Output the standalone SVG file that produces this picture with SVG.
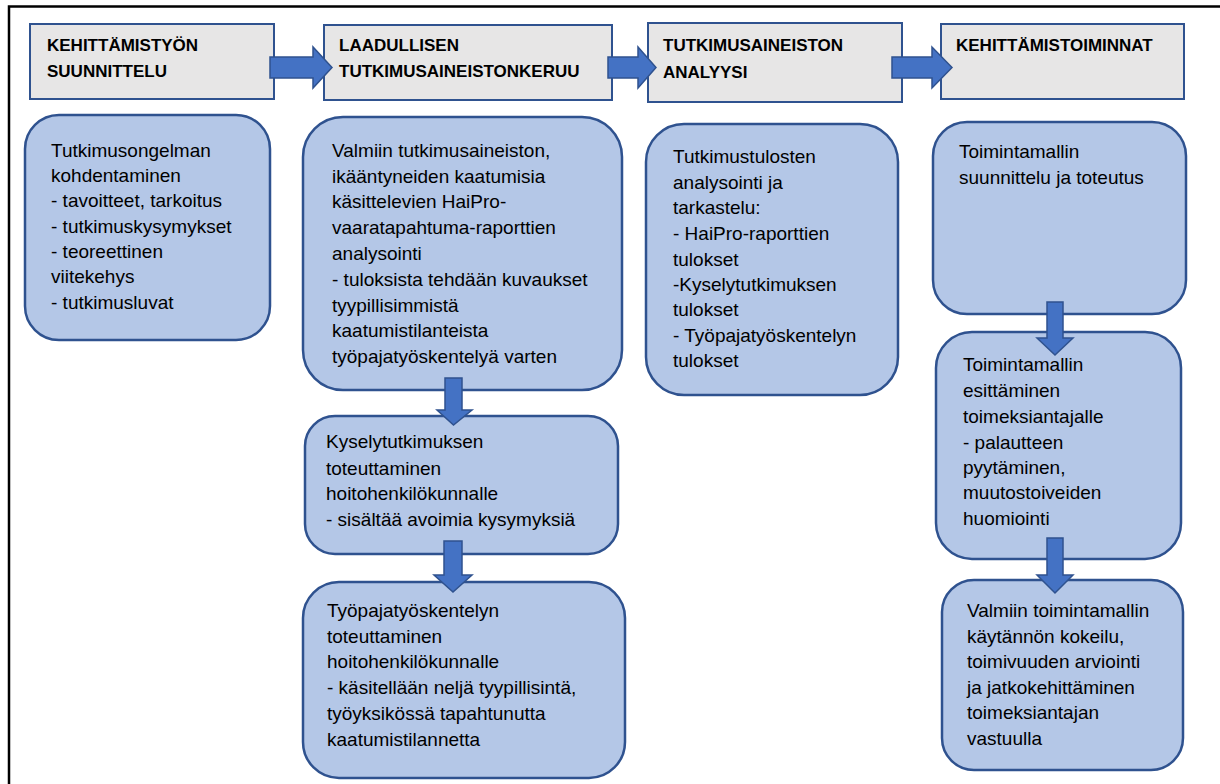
<svg xmlns="http://www.w3.org/2000/svg" width="1220" height="784" viewBox="0 0 1220 784">
<style>
.hdr{fill:#E7E6E6;stroke:#2F528F;stroke-width:2}
.box{fill:#B4C7E7;stroke:#2F528F;stroke-width:2.5}
.arr{fill:#4472C4;stroke:#2F528F;stroke-width:1.5}
.ht{font-family:"Liberation Sans",Arial,sans-serif;font-size:17px;font-weight:bold;fill:#000}
.bt{font-family:"Liberation Sans",Arial,sans-serif;font-size:19px;fill:#000}
</style>
<rect width="1220" height="784" fill="#fff"/>
<path d="M9,784 V6.5 H1220" fill="none" stroke="#000" stroke-width="2.5"/>

<g id="h1"><rect class="hdr" x="30" y="24" width="244" height="75"/>
<text class="ht" x="47" y="51">KEHITTÄMISTYÖN</text><text class="ht" x="47" y="77">SUUNNITTELU</text></g>
<g id="h2"><rect class="hdr" x="324" y="25" width="288" height="75"/>
<text class="ht" x="339" y="51">LAADULLISEN</text><text class="ht" x="339" y="77">TUTKIMUSAINEISTONKERUU</text></g>
<g id="h3"><rect class="hdr" x="648" y="23" width="254" height="79"/>
<text class="ht" x="663" y="51">TUTKIMUSAINEISTON</text><text class="ht" x="663" y="78">ANALYYSI</text></g>
<g id="h4"><rect class="hdr" x="941" y="24" width="243" height="75"/>
<text class="ht" x="956" y="51">KEHITTÄMISTOIMINNAT</text></g>

<g id="a"><rect class="box" x="25" y="115" width="245" height="225" rx="34"/>
<text class="bt" x="51"><tspan x="51" y="157">Tutkimusongelman</tspan><tspan x="51" y="182">kohdentaminen</tspan><tspan x="51" y="207">- tavoitteet, tarkoitus</tspan><tspan x="51" y="233">- tutkimuskysymykset</tspan><tspan x="51" y="258">- teoreettinen</tspan><tspan x="51" y="283">viitekehys</tspan><tspan x="51" y="309">- tutkimusluvat</tspan></text></g>

<g id="b1"><rect class="box" x="303" y="117" width="319" height="273" rx="40"/>
<text class="bt"><tspan x="332" y="157">Valmiin tutkimusaineiston,</tspan><tspan x="332" y="183">ikääntyneiden  kaatumisia</tspan><tspan x="332" y="208">käsittelevien  HaiPro-</tspan><tspan x="332" y="234">vaaratapahtuma-raporttien</tspan><tspan x="332" y="260">analysointi</tspan><tspan x="332" y="286">- tuloksista tehdään kuvaukset</tspan><tspan x="332" y="312">tyypillisimmistä</tspan><tspan x="332" y="337">kaatumistilanteista</tspan><tspan x="332" y="363">työpajatyöskentelyä  varten</tspan></text></g>

<g id="b2"><rect class="box" x="305" y="416" width="313" height="138" rx="30"/>
<text class="bt"><tspan x="326" y="448">Kyselytutkimuksen</tspan><tspan x="326" y="475">toteuttaminen</tspan><tspan x="326" y="500">hoitohenkilökunnalle</tspan><tspan x="326" y="526">- sisältää avoimia kysymyksiä</tspan></text></g>

<g id="b3"><rect class="box" x="303" y="582" width="322" height="196" rx="36"/>
<text class="bt"><tspan x="327" y="617">Työpajatyöskentelyn</tspan><tspan x="327" y="643">toteuttaminen</tspan><tspan x="327" y="668">hoitohenkilökunnalle</tspan><tspan x="327" y="694">- käsitellään neljä tyypillisintä,</tspan><tspan x="327" y="720">työyksikössä tapahtunutta</tspan><tspan x="327" y="746">kaatumistilannetta</tspan></text></g>

<g id="c"><rect class="box" x="646" y="124" width="252" height="271" rx="38"/>
<text class="bt"><tspan x="673" y="163">Tutkimustulosten</tspan><tspan x="673" y="189">analysointi  ja</tspan><tspan x="673" y="214">tarkastelu:</tspan><tspan x="673" y="240">- HaiPro-raporttien</tspan><tspan x="673" y="266">tulokset</tspan><tspan x="673" y="291">-Kyselytutkimuksen</tspan><tspan x="673" y="316">tulokset</tspan><tspan x="673" y="342">- Työpajatyöskentelyn</tspan><tspan x="673" y="367">tulokset</tspan></text></g>

<g id="d1"><rect class="box" x="933" y="122" width="253" height="192" rx="34"/>
<text class="bt"><tspan x="959" y="158">Toimintamallin</tspan><tspan x="959" y="184">suunnittelu  ja  toteutus</tspan></text></g>

<g id="d2"><rect class="box" x="936" y="332" width="245" height="227" rx="36"/>
<text class="bt"><tspan x="963" y="371">Toimintamallin</tspan><tspan x="963" y="397">esittäminen</tspan><tspan x="963" y="423">toimeksiantajalle</tspan><tspan x="963" y="449">- palautteen</tspan><tspan x="963" y="474">pyytäminen,</tspan><tspan x="963" y="499">muutostoiveiden</tspan><tspan x="963" y="525">huomiointi</tspan></text></g>

<g id="d3"><rect class="box" x="942" y="580" width="241" height="190" rx="32"/>
<text class="bt"><tspan x="967" y="617">Valmiin  toimintamallin</tspan><tspan x="967" y="643">käytännön  kokeilu,</tspan><tspan x="967" y="668">toimivuuden  arviointi</tspan><tspan x="967" y="694">ja jatkokehittäminen</tspan><tspan x="967" y="719">toimeksiantajan</tspan><tspan x="967" y="745">vastuulla</tspan></text></g>

<g id="connectors">
<path class="arr" d="M270,57 H313 V47 L332,67.5 L313,88 V78 H270 Z"/>
<path class="arr" d="M608,57 H638 V47 L656,67.5 L638,88 V78 H608 Z"/>
<path class="arr" d="M892,57 H932 V47 L952,67.5 L932,88 V78 H892 Z"/>
<path class="arr" d="M445,378 H462 V410 H472 L453.5,425 L437,410 H445 Z"/>
<path class="arr" d="M444,541 H462 V575 H472 L453,592 L434,575 H444 Z"/>
<path class="arr" d="M1047,302 H1063 V338 H1073 L1055,355 L1037,338 H1047 Z"/>
<path class="arr" d="M1047,538 H1063 V575 H1073 L1055,593 L1037,575 H1047 Z"/>
</g>
</svg>
